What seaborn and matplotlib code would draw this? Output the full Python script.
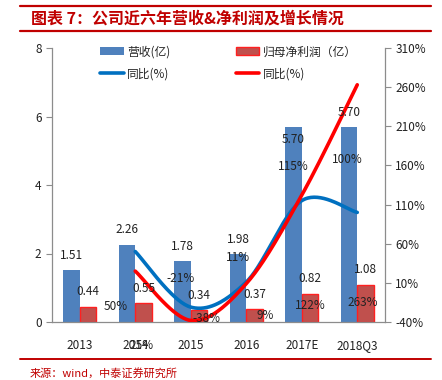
import numpy as np
import pandas as pd
import seaborn as sns
import matplotlib.pyplot as plt
from matplotlib.lines import Line2D
from matplotlib.patches import Patch

years = ["2013", "2014", "2015", "2016", "2017E", "2018Q3"]
revenue = [1.51, 2.26, 1.78, 1.98, 5.70, 5.70]
net_profit = [0.44, 0.55, 0.34, 0.37, 0.82, 1.08]
# growth (%) only from 2014 on
growth_years = ["2014", "2015", "2016", "2017E", "2018Q3"]
revenue_yoy = [50, -21, 11, 115, 100]
profit_yoy = [25, -38, 9, 122, 263]
revenue_yoy_labels = ["50%", "-21%", "11%", "115%", "100%"]
profit_yoy_labels = ["25%", "-38%", "9%", "122%", "263%"]

REV_NAME = "营收(亿)"
NP_NAME = "归母净利润（亿）"
BLUE_BAR = "#4F81BD"
RED_BAR = "#C0504D"
BLUE_LINE = "#0070C0"
RED_LINE = "#FF0000"
TITLE_RED = "#C00000"
AXIS_GRAY = "#8C8C8C"


def smooth(xs, ys, n=40):
    """Excel-like smoothed line (bezier with catmull-rom control points)."""
    pts = np.column_stack([xs, ys]).astype(float)
    padded = np.vstack([pts[0], pts, pts[-1]])
    out = []
    t = np.linspace(0, 1, n)[:, None]
    for i in range(len(pts) - 1):
        p0, p1, p2, p3 = padded[i], padded[i + 1], padded[i + 2], padded[i + 3]
        c1 = p1 + (p2 - p0) / 6
        c2 = p2 - (p3 - p1) / 6
        seg = ((1 - t) ** 3) * p1 + 3 * ((1 - t) ** 2) * t * c1 + 3 * (1 - t) * t ** 2 * c2 + t ** 3 * p2
        out.append(seg if i == 0 else seg[1:])
    out = np.vstack(out)
    return out[:, 0], out[:, 1]


sns.set_theme(style="white")
plt.rcParams["font.family"] = ["Noto Sans CJK SC", "DejaVu Sans"]

df = pd.DataFrame({
    "year": years * 2,
    "value": revenue + net_profit,
    "series": [REV_NAME] * len(years) + [NP_NAME] * len(years),
})

fig = plt.figure(figsize=(4.42, 3.8), dpi=100)
ax = fig.add_axes([52 / 442, 58 / 380, 333 / 442, 274 / 380])

sns.barplot(data=df, x="year", y="value", hue="series", order=years,
            hue_order=[REV_NAME, NP_NAME], palette=[BLUE_BAR, RED_BAR],
            width=0.6, errorbar=None, saturation=1, legend=False, ax=ax)
for bar in ax.containers[1]:
    bar.set_edgecolor("#FF2020")
    bar.set_linewidth(1.0)
for bar in ax.containers[0]:
    bar.set_linewidth(0)

ax.set_ylim(0, 8)
ax.set_xlim(-0.5, len(years) - 0.5)
ax.set_yticks([0, 2, 4, 6, 8])
ax.set_xlabel("")
ax.set_ylabel("")
ax.set_xticks(range(len(years)))
ax.set_xticklabels(years)
ax.set_xticks(np.arange(-0.5, len(years)), minor=True)
ax.tick_params(axis="x", which="major", length=0, pad=12, labelsize=8.5, colors="#222222")
ax.tick_params(axis="x", which="minor", length=5, width=0.8, direction="out", color=AXIS_GRAY)
ax.tick_params(axis="y", length=4, width=0.8, direction="out", color=AXIS_GRAY,
               labelsize=8.5, labelcolor="#222222", left=True)
for side in ["top", "right"]:
    ax.spines[side].set_visible(False)
for side in ["left", "bottom"]:
    ax.spines[side].set_color(AXIS_GRAY)
    ax.spines[side].set_linewidth(0.9)

ax2 = ax.twinx()
gx = [years.index(y) for y in growth_years]
bx, by = smooth(gx, revenue_yoy)
rx, ry = smooth(gx, profit_yoy)
sns.lineplot(x=bx, y=by, sort=False, color=BLUE_LINE, lw=2.6, ax=ax2)
sns.lineplot(x=rx, y=ry, sort=False, color=RED_LINE, lw=2.6, ax=ax2)
ax2.set_ylim(-40, 310)
ax2.set_yticks(range(-40, 311, 50))
ax2.set_yticklabels([f"{v}%" for v in range(-40, 311, 50)])
ax2.tick_params(axis="y", length=4, width=0.8, direction="out", color=AXIS_GRAY,
                labelsize=8.5, labelcolor="#222222", right=True)
for side in ["top", "left", "bottom"]:
    ax2.spines[side].set_visible(False)
ax2.spines["right"].set_color(AXIS_GRAY)
ax2.spines["right"].set_linewidth(0.9)

# value labels (drawn on top axes, in bar coordinates)
rev_offsets = [0.44, 0.44, 0.42, 0.44, -0.38, 0.42]
for i, (v, off) in enumerate(zip(revenue, rev_offsets)):
    ax2.text(i - 0.15, v + off, f"{v:.2f}", transform=ax.transData,
             ha="center", va="center", fontsize=8.5, color="#222222")
for i, v in enumerate(net_profit):
    ax2.text(i + 0.15, v + 0.44, f"{v:.2f}", transform=ax.transData,
             ha="center", va="center", fontsize=8.5, color="#222222")

# growth labels sit where the original report put them
rev_lab_pos = [(0.64, 0.44), (1.81, 1.28), (2.85, 1.87), (3.84, 4.53), (4.82, 4.73)]
np_lab_pos = [(1.12, -0.70), (2.29, 0.09), (3.34, 0.20), (4.15, 0.47), (5.09, 0.58)]
for (x, y), s in zip(rev_lab_pos, revenue_yoy_labels):
    ax2.text(x, y, s, transform=ax.transData, ha="center", va="center",
             fontsize=8.5, color="#222222", clip_on=False)
for (x, y), s in zip(np_lab_pos, profit_yoy_labels):
    ax2.text(x, y, s, transform=ax.transData, ha="center", va="center",
             fontsize=8.5, color="#222222", clip_on=False)

handles = [
    Patch(facecolor=BLUE_BAR, edgecolor="none"),
    Line2D([], [], color=BLUE_LINE, lw=2.6),
    Patch(facecolor=RED_BAR, edgecolor="#FF2020"),
    Line2D([], [], color=RED_LINE, lw=2.6),
]
labels = [REV_NAME, "同比(%)", NP_NAME, "同比(%)"]
ax2.legend(handles, labels, ncol=2, loc="upper left", bbox_to_anchor=(0.145, 1.01),
           frameon=False, fontsize=8.5, borderpad=0, borderaxespad=0,
           handlelength=2.0, handleheight=0.6, handletextpad=0.3,
           labelspacing=0.75, columnspacing=5.5)

# report frame: title between red rules, source at bottom
fig.add_artist(Line2D([20 / 442, 431 / 442], [1 - 6 / 380] * 2, color=TITLE_RED, lw=1.6))
fig.add_artist(Line2D([20 / 442, 431 / 442], [1 - 31 / 380] * 2, color=TITLE_RED, lw=1.6))
fig.add_artist(Line2D([20 / 442, 431 / 442], [1 - 359 / 380] * 2, color=TITLE_RED, lw=1.4))
fig.text(31 / 442, 1 - 19 / 380, "图表 7：公司近六年营收&净利润及增长情况",
         ha="left", va="center", fontsize=11.5, fontweight="bold", color=TITLE_RED)
fig.text(30 / 442, 1 - 373 / 380, "来源：wind，中泰证券研究所",
         ha="left", va="center", fontsize=8, color=TITLE_RED)

fig.savefig("out.png", dpi=100)
